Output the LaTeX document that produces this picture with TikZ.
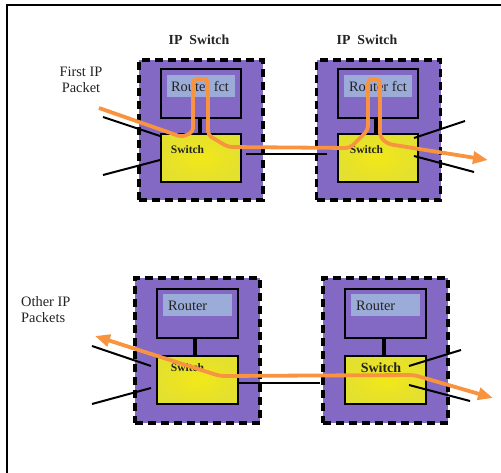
\documentclass[tikz,border=0pt]{standalone}
\usepackage{fontspec}
\setmainfont{Liberation Serif}
\usetikzlibrary{arrows.meta,calc}
\definecolor{purp}{RGB}{131,105,196}
\definecolor{lblue}{RGB}{156,172,216}
\definecolor{orng}{RGB}{248,148,64}
\definecolor{yel}{RGB}{228,224,46}
\definecolor{yelc}{RGB}{242,232,24}
\definecolor{txt}{RGB}{35,35,35}
\begin{document}
\begin{tikzpicture}[x=1pt,y=-1pt,
 pbox/.style={draw=black, fill=purp, line width=3.5pt, dash pattern=on 8pt off 5pt, minimum width=124pt, minimum height=140pt, inner sep=0pt},
 rbox/.style={draw=black, fill=purp, line width=2pt, minimum width=80pt, minimum height=49pt, inner sep=0pt},
 lbox/.style={fill=lblue, minimum width=68pt, minimum height=22pt, inner sep=0pt},
 sbox/.style={draw=black, line width=2pt, inner color=yelc, outer color=yel, minimum width=80pt, minimum height=48pt, inner sep=0pt},
 wire/.style={line width=2pt, black},
 stub/.style={line width=3.5pt, black},
 flow/.style={draw=orng, line width=3.8pt, line join=round, rounded corners=4pt},
 ttl/.style={font=\fontsize{13.8}{16}\selectfont\bfseries, text=txt, inner sep=0pt},
 note/.style={font=\fontsize{14.4}{16}\selectfont, text=txt, inner sep=0pt},
 sw/.style={font=\fontsize{11.5}{14}\selectfont\bfseries, text=txt, inner sep=0pt},
 swbig/.style={font=\fontsize{14}{16}\selectfont\bfseries, text=txt, inner sep=0pt},
 rt/.style={font=\fontsize{14.4}{16}\selectfont, text=txt, inner sep=0pt}
]
\useasboundingbox (0,0) rectangle (501,473);
\fill[white] (0,0) rectangle (501,473);
\draw[line width=2pt] (7,473) -- (7,5.5) -- (501,5.5);

% titles and notes
\node[ttl] (t1) at (199,40) {IP\ \ Switch};
\node[ttl] (t2) at (367,40) {IP\ \ Switch};
\node[note, align=center] (n1) at (81,80) {First IP\\Packet};
\node[note, align=left, anchor=west] (n2) at (21,310) {Other IP\\Packets};

% top-left IP switch
\node[pbox] (ptl) at (201,130) {};
\node[rbox] (rtl) at (201,93.5) {};
\node[lbox] (ltl) at (201,86) {};
\node[rt] (xtl) at (200,87) {Router fct};
\node[sbox] (stl) at (201,158) {};
\node[sw] (wtl) at (187.5,150) {Switch};

% top-right IP switch
\node[pbox] (ptr) at (378.5,130) {};
\node[rbox] (rtr) at (378,93.5) {};
\node[lbox] (ltr) at (378,86) {};
\node[rt] (xtr) at (378,87) {Router fct};
\node[sbox] (str) at (378,158) {};
\node[sw] (wtr) at (366.5,150) {Switch};

% bottom-left
\node[pbox, minimum width=125pt, minimum height=145pt] (pbl) at (197.5,350.5) {};
\node[rbox, minimum width=81pt] (rbl) at (197.5,313.5) {};
\node[lbox, minimum width=69pt] (lbl) at (197.5,305) {};
\node[rt, anchor=west] (xbl) at ($(lbl.west)+(5,1)$) {Router};
\node[sbox, minimum width=81pt] (sbl) at (197.5,380) {};
\node[sw] (wbl) at (187.5,368) {Switch};

% bottom-right
\node[pbox, minimum width=125pt, minimum height=145pt] (pbr) at (385.5,350.5) {};
\node[rbox, minimum width=81pt] (rbr) at (385.5,313.5) {};
\node[lbox, minimum width=69pt] (lbr) at (385.5,305) {};
\node[rt, anchor=west] (xbr) at ($(lbr.west)+(5,1)$) {Router};
\node[sbox, minimum width=81pt] (sbr) at (385.5,380) {};
\node[swbig] (wbr) at (381,368) {Switch};

% router-switch links
\draw[stub] ([xshift=-1pt]rtl.south) -- ([xshift=-1pt]stl.north);
\draw[stub] ([xshift=-2pt]rtr.south) -- ([xshift=-2pt]str.north);
\draw[stub] ([xshift=-2.5pt]rbl.south) -- ([xshift=-2.5pt]sbl.north);
\draw[stub] ([xshift=-1.5pt]rbr.south) -- ([xshift=-1.5pt]sbr.north);

% switch-switch links
\draw[wire] ($(stl.east)+(4,-4)$) -- ($(str.west)+(-10,-4)$);
\draw[wire] ($(sbl.east)+(0,3)$) -- ($(sbr.west)+(-24,3)$);

% side lines
\coordinate (a1) at (103,117);
\coordinate (a2) at (103,175);
\coordinate (a3) at (465,121);
\coordinate (a4) at (474,172);
\coordinate (b1) at (92,346);
\coordinate (b2) at (92,404);
\coordinate (b3) at (461,350);
\coordinate (b4) at (470,401);
\draw[wire] (a1) -- ($(stl.west)+(0,-22)$);
\draw[wire] (a2) -- ($(stl.west)+(0,2)$);
\draw[wire] ($(str.east)+(-5,-20)$) -- (a3);
\draw[wire] ($(str.east)+(-5,-2)$) -- (a4);
\draw[wire] (b1) -- ($(sbl.west)+(-5,-14)$);
\draw[wire] (b2) -- ($(sbl.west)+(-5,8)$);
\draw[wire] ($(sbr.east)+(-18,-14)$) -- (b3);
\draw[wire] ($(sbr.east)+(-18,5)$) -- (b4);

% packet flows
\coordinate (in1) at (99,108);
\coordinate (out1) at (488,160);
\coordinate (in2) at (95,336);
\coordinate (out2) at (493,398);
\draw[flow, -{Triangle[length=15pt,width=12pt]}] (in1) -- (182,137) -- (193,132) -- (193,79) -- (208,79) -- (208,135) -- (228,147) -- (350,148) -- (368,130) -- (368,79) -- (380,79) -- (380,137) -- (388,144) -- (out1);
\draw[flow, {Triangle[length=15pt,width=12pt]}-{Triangle[length=15pt,width=12pt]}] (in2) -- (220,376) -- (414,375) -- (out2);
\end{tikzpicture}
\end{document}
